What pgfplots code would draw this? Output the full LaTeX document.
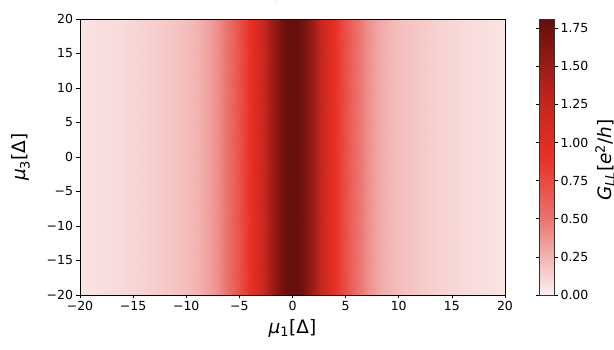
\documentclass[border=0pt]{standalone}
\usepackage{pgfplots}
\pgfplotsset{compat=1.18}
\usepackage{fontspec}
\setmainfont{DejaVu Sans}
\pgfplotsset{/pgf/number format/assume math mode=true}
\begin{document}
\begin{tikzpicture}
\begin{axis}[
  name=ax,
  scale only axis,
  width=425pt, height=276pt,
  view={0}{90},
  axis on top,
  xmin=-20, xmax=20, ymin=-20, ymax=20,
  xtick={-20,-15,-10,-5,0,5,10,15,20},
  ytick={-20,-15,-10,-5,0,5,10,15,20},
  xticklabels={−20,−15,−10,−5,0,5,10,15,20},
  yticklabels={−20,−15,−10,−5,0,5,10,15,20},
  tick align=outside,
  xtick pos=left, ytick pos=left,
  major tick length=3.5pt,
  tick style={black, line width=0.6pt},
  ticklabel style={font=\fontsize{12.5}{14}\selectfont},
  xticklabel style={yshift=1pt},
  axis line style={black, line width=0.6pt},
  xlabel={\textit{μ}\textsubscript{1}[Δ]},
  ylabel={\textit{μ}\textsubscript{3}[Δ]},
  label style={font=\fontsize{18.5}{20}\selectfont},
  xlabel style={yshift=-2pt},
  ylabel style={at={(axis description cs:-0.11,0.5)}, anchor=south},
  title={\textit{t}\textsubscript{12} = \textit{t}\textsubscript{23} = Δ, \textit{μ}\textsubscript{2} = 0},
  title style={at={(0.5,1)}, anchor=base, yshift=15pt, font=\fontsize{13}{15}\selectfont},
  colormap={gll}{rgb255(0pt)=(251,240,240); rgb255(25pt)=(242,180,178); rgb255(50pt)=(234,115,110); rgb255(90pt)=(233,48,38); rgb255(125pt)=(198,38,30); rgb255(150pt)=(155,28,22); rgb255(181pt)=(100,15,12)},
  point meta min=0, point meta max=1.81,
  colorbar,
  colorbar style={
    at={(parent axis.north east)}, anchor=north west, xshift=26pt,
    width=15pt,
    ytick={0,0.25,0.5,0.75,1,1.25,1.5,1.75},
    yticklabel style={/pgf/number format/.cd, fixed, fixed zerofill, precision=2, /tikz/.cd, font=\fontsize{12.5}{14}\selectfont, xshift=-1pt},
    ylabel={\textit{G}\textsubscript{\textit{LL}}[\textit{e}\textsuperscript{2}/\textit{h}]},
    ylabel style={font=\fontsize{18.5}{20}\selectfont, xshift=-3pt},
    major tick length=3.5pt, tick align=outside,
    tick style={black, line width=0.6pt},
    axis line style={black!80, line width=0.6pt},
  },
]
\addplot3[surf, shader=interp, mesh/cols=41] table {
x y z
-20 -20 0.05
-18 -20 0.07
-16 -20 0.09
-14 -20 0.12
-12 -20 0.16
-10 -20 0.21
-9 -20 0.25
-8 -20 0.31
-7 -20 0.40
-6 -20 0.53
-5 -20 0.70
-4.5 -20 0.80
-4 -20 0.90
-3.5 -20 1.02
-3 -20 1.16
-2.5 -20 1.31
-2 -20 1.46
-1.5 -20 1.60
-1 -20 1.71
-0.5 -20 1.78
0 -20 1.80
0.5 -20 1.78
1 -20 1.71
1.5 -20 1.60
2 -20 1.46
2.5 -20 1.31
3 -20 1.16
3.5 -20 1.02
4 -20 0.90
4.5 -20 0.80
5 -20 0.70
6 -20 0.53
7 -20 0.40
8 -20 0.31
9 -20 0.25
10 -20 0.21
12 -20 0.16
14 -20 0.12
16 -20 0.09
18 -20 0.07
20 -20 0.05
-20 20 0.05
-18 20 0.07
-16 20 0.09
-14 20 0.12
-12 20 0.16
-10 20 0.21
-9 20 0.25
-8 20 0.31
-7 20 0.40
-6 20 0.53
-5 20 0.70
-4.5 20 0.80
-4 20 0.90
-3.5 20 1.02
-3 20 1.16
-2.5 20 1.31
-2 20 1.46
-1.5 20 1.60
-1 20 1.71
-0.5 20 1.78
0 20 1.80
0.5 20 1.78
1 20 1.71
1.5 20 1.60
2 20 1.46
2.5 20 1.31
3 20 1.16
3.5 20 1.02
4 20 0.90
4.5 20 0.80
5 20 0.70
6 20 0.53
7 20 0.40
8 20 0.31
9 20 0.25
10 20 0.21
12 20 0.16
14 20 0.12
16 20 0.09
18 20 0.07
20 20 0.05
};
\end{axis}
\pgfresetboundingbox
\path[use as bounding box] (-80pt,-55pt) rectangle (534pt,295pt);
\end{tikzpicture}
\end{document}
